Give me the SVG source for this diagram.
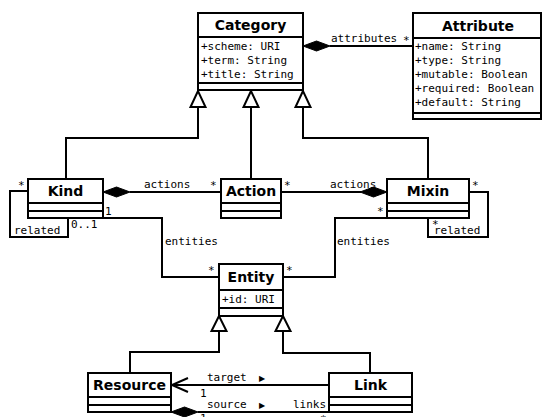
<svg xmlns="http://www.w3.org/2000/svg" width="543" height="417" viewBox="0 0 543 417">
<style>
.box{fill:#fff;stroke:#000;stroke-width:2}
.ln{fill:none;stroke:#000;stroke-width:2}
.tri{fill:#fff;stroke:#000;stroke-width:2;stroke-linejoin:miter}
.dia{fill:#000;stroke:#000;stroke-width:1}
.hd{font-family:"DejaVu Sans",sans-serif;font-weight:bold;font-size:14px;text-anchor:middle}
.tx{font-family:"DejaVu Sans Mono",monospace;font-size:11px}
.ar{font-family:"DejaVu Sans",sans-serif;font-size:8px}
</style>
<rect width="543" height="417" fill="#fff"/>
<g id="connectors">
  <!-- generalizations to Category -->
  <path class="ln" d="M66,179 V138 H198 V107"/>
  <path class="ln" d="M251,179 V107"/>
  <path class="ln" d="M428,179 V138 H303 V107"/>
  <polygon class="tri" points="198,91 190.5,107 205.5,107"/>
  <polygon class="tri" points="251,91 243.5,107 258.5,107"/>
  <polygon class="tri" points="303,91 295.5,107 310.5,107"/>
  <!-- attributes -->
  <path class="ln" d="M330,46 H413"/>
  <polygon class="dia" points="303,46 316.5,41 330,46 316.5,51"/>
  <text class="tx" x="331" y="42">attributes</text>
  <text class="tx" x="403" y="44">*</text>
  <!-- Kind actions -->
  <path class="ln" d="M130,192 H221"/>
  <polygon class="dia" points="103,192 116.5,187 130,192 116.5,197"/>
  <text class="tx" x="144" y="188">actions</text>
  <text class="tx" x="210" y="189">*</text>
  <!-- Mixin actions -->
  <path class="ln" d="M281,192 H361"/>
  <polygon class="dia" points="387,192 373.5,187 360,192 373.5,197"/>
  <text class="tx" x="330" y="188">actions</text>
  <text class="tx" x="284" y="189">*</text>
  <!-- Kind related -->
  <path class="ln" d="M28,191 H10 V237 H68 V218"/>
  <text class="tx" x="18" y="189">*</text>
  <text class="tx" x="14" y="234">related</text>
  <text class="tx" x="71" y="228">0..1</text>
  <!-- Mixin related -->
  <path class="ln" d="M469,192 H488 V237 H428 V218"/>
  <text class="tx" x="472" y="189">*</text>
  <text class="tx" x="432" y="228">*</text>
  <text class="tx" x="434" y="234">related</text>
  <!-- Kind entities -->
  <path class="ln" d="M103,218 H162 V277 H219"/>
  <text class="tx" x="105" y="215">1</text>
  <text class="tx" x="165" y="245">entities</text>
  <text class="tx" x="208" y="274">*</text>
  <!-- Mixin entities -->
  <path class="ln" d="M387,218 H335 V277 H283"/>
  <text class="tx" x="377" y="215">*</text>
  <text class="tx" x="337" y="245">entities</text>
  <text class="tx" x="286" y="274">*</text>
  <!-- generalizations to Entity -->
  <path class="ln" d="M219,331 V352 H130 V373"/>
  <path class="ln" d="M283,331 V353 H370 V373"/>
  <polygon class="tri" points="219,316 211.5,331 226.5,331"/>
  <polygon class="tri" points="283,316 275.5,331 290.5,331"/>
  <!-- target -->
  <path class="ln" d="M171,385 H329"/>
  <path class="ln" d="M188,378 L172,385 L188,392"/>
  <text class="tx" x="207" y="381">target</text>
  <text class="ar" x="259" y="381">▶</text>
  <text class="tx" x="200" y="397">1</text>
  <!-- source -->
  <path class="ln" d="M198,412 H329"/>
  <polygon class="dia" points="171,412 184.5,407 198,412 184.5,417"/>
  <text class="tx" x="207" y="408">source</text>
  <text class="ar" x="259" y="408">▶</text>
  <text class="tx" x="293" y="408">links</text>
  <text class="tx" x="200" y="422">1</text>
  <text class="tx" x="320" y="423">*</text>
</g>
<g id="Category">
  <rect class="box" x="198" y="13" width="105" height="77"/>
  <path class="ln" d="M198,37 H303 M198,83 H303"/>
  <text class="hd" x="250.5" y="30">Category</text>
  <text class="tx" x="201" y="50">+scheme: URI</text>
  <text class="tx" x="201" y="64">+term: String</text>
  <text class="tx" x="201" y="78">+title: String</text>
</g>
<g id="Attribute">
  <rect class="box" x="413" y="13" width="128" height="106"/>
  <path class="ln" d="M413,38 H541 M413,113 H541"/>
  <text class="hd" x="478" y="31">Attribute</text>
  <text class="tx" x="415" y="50">+name: String</text>
  <text class="tx" x="415" y="64">+type: String</text>
  <text class="tx" x="415" y="78">+mutable: Boolean</text>
  <text class="tx" x="415" y="92">+required: Boolean</text>
  <text class="tx" x="415" y="106">+default: String</text>
</g>
<g id="Kind">
  <rect class="box" x="28" y="179" width="75" height="39"/>
  <path class="ln" d="M28,203 H103 M28,211 H103"/>
  <text class="hd" x="65.5" y="196">Kind</text>
</g>
<g id="Action">
  <rect class="box" x="221" y="179" width="60" height="39"/>
  <path class="ln" d="M221,203 H281 M221,211 H281"/>
  <text class="hd" x="251" y="196">Action</text>
</g>
<g id="Mixin">
  <rect class="box" x="387" y="179" width="82" height="39"/>
  <path class="ln" d="M387,203 H469 M387,211 H469"/>
  <text class="hd" x="428" y="196">Mixin</text>
</g>
<g id="Entity">
  <rect class="box" x="219" y="264" width="64" height="52"/>
  <path class="ln" d="M219,290 H283 M219,308 H283"/>
  <text class="hd" x="251" y="282">Entity</text>
  <text class="tx" x="222" y="303">+id: URI</text>
</g>
<g id="Resource">
  <rect class="box" x="88" y="373" width="83" height="39"/>
  <path class="ln" d="M88,397 H171 M88,405 H171"/>
  <text class="hd" x="129.5" y="390">Resource</text>
</g>
<g id="Link">
  <rect class="box" x="329" y="373" width="83" height="39"/>
  <path class="ln" d="M329,397 H412 M329,405 H412"/>
  <text class="hd" x="370.5" y="390">Link</text>
</g>
</svg>
